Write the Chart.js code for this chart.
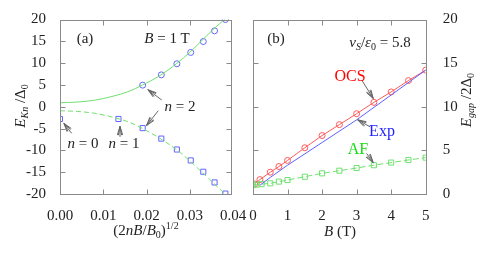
<!DOCTYPE html>
<html>
<head>
<meta charset="utf-8">
<script src="https://cdn.jsdelivr.net/npm/chart.js@4.4.1/dist/chart.umd.min.js"></script>
<style>
  body { margin: 0; background: #fff; }
  #wrap { position: relative; width: 480px; height: 253px; overflow: hidden;
          font-family: "Liberation Serif", "Times New Roman", serif; color: #222; }
  canvas { position: absolute; left: 0; top: 0; }
  .t { position: absolute; white-space: nowrap; transform: translate(-50%, -50%);
       font-size: 15px; line-height: 1; }
  .r { transform: translate(-50%, -50%) rotate(-90deg); }
  sub { font-size: 10px; vertical-align: -3px; line-height: 0; }
  sup { font-size: 10px; vertical-align: 6px; line-height: 0; }
</style>
</head>
<body>
<div id="wrap">
  <canvas id="chartA" width="480" height="253"></canvas>
  <canvas id="chartB" width="480" height="253"></canvas>

  <div class="t" style="left:85px;top:38px">(a)</div>
  <div class="t" style="left:167px;top:38px"><i>B</i> = 1 T</div>
  <div class="t" style="left:180px;top:106px"><i>n</i> = 2</div>
  <div class="t" style="left:83px;top:143px"><i>n</i> = 0</div>
  <div class="t" style="left:124px;top:143px"><i>n</i> = 1</div>
  <div class="t r" style="left:20px;top:106px"><i>E</i><sub><i>Kn</i></sub> /Δ<sub>0</sub></div>
  <div class="t" style="left:146px;top:230px">(2<i>nB</i>/<i>B</i><sub>0</sub>)<sup>1/2</sup></div>

  <div class="t" style="left:276px;top:38px">(b)</div>
  <div class="t" style="left:380px;top:42px"><i>v</i><sub><i>S</i></sub>/<i>ε</i><sub>0</sub> = 5.8</div>
  <div class="t" style="left:350px;top:76px;color:#f00;font-size:16px">OCS</div>
  <div class="t" style="left:382px;top:131px;color:#2222ff;font-size:16px">Exp</div>
  <div class="t" style="left:358px;top:149px;color:#11dd11;font-size:16px">AF</div>
  <div class="t" style="left:340px;top:231px"><i>B</i> (T)</div>
  <div class="t r" style="left:466px;top:100px"><i>E</i><sub><i>gap</i></sub> /2Δ<sub>0</sub></div>
</div>

<script>
// ---- panel (a): E_Kn vs (2nB/B0)^1/2 ----
const xSquares = [0.0, 0.0135, 0.0191, 0.0234, 0.0270, 0.0302, 0.0331, 0.0357, 0.0382];
const eSquares = [-2.8, -2.8, -4.9, -7.3, -9.8, -12.3, -14.9, -17.35, -19.9];
const xCircles = [0.0191, 0.0234, 0.0270, 0.0302, 0.0331, 0.0357, 0.0382];
const eCircles = [4.95, 7.3, 9.85, 12.45, 14.95, 17.4, 20.0];
const xCurve = [0, 0.004, 0.008, 0.012, 0.016, 0.019, 0.023, 0.027, 0.030, 0.033, 0.0358, 0.0381];
const eCurveUp = [0.92, 1.08, 1.5, 2.35, 3.55, 4.95, 7.1, 9.95, 12.5, 15.4, 18.1, 20.1];
const eCurveDn = [-0.92, -1.08, -1.5, -2.35, -3.55, -4.95, -7.2, -9.9, -12.4, -15.2, -17.8, -20.0];
const xTicksA = [0, 0.01, 0.02, 0.03, 0.04];

// ---- panel (b): E_gap/2Δ0 vs B ----
const bOcs = [0.05, 0.2, 0.5, 0.75, 1, 1.5, 2, 2.5, 3, 3.5, 4, 4.5, 5];
const eOcs = [1.15, 1.65, 2.5, 3.15, 3.85, 5.3, 6.7, 7.95, 9.2, 10.5, 11.7, 13.0, 14.2];
const bExp = [0.2, 0.5, 1, 2, 3, 4, 5];
const eExp = [1.0, 1.9, 3.3, 5.9, 8.5, 11.35, 14.2];
const bAf = [0, 0.1, 0.25, 0.5, 0.75, 1, 1.5, 2, 2.5, 3, 3.5, 4, 4.5, 5];
const eAf = [1.05, 1.07, 1.13, 1.22, 1.42, 1.6, 1.98, 2.37, 2.67, 2.98, 3.3, 3.6, 3.9, 4.17];

const pts = (xs, ys) => xs.map((x, i) => ({ x: x, y: ys[i] }));

const tickFont = { family: '"Liberation Serif", "Times New Roman", serif', size: 15 };

// frame + inward tick marks, arrows in data coords
const framePlugin = {
  id: 'frame',
  afterDatasetsDraw(chart, args, opts) {
    const { ctx, chartArea: a, scales } = chart;
    const xs = scales.x, ys = scales.y;
    ctx.save();
    ctx.strokeStyle = '#8a8a8a';
    ctx.lineWidth = 1;
    const L = Math.round(a.left) + 0.5, R = Math.round(a.right) + 0.5;
    const T = Math.round(a.top) + 0.5, B = Math.round(a.bottom) + 0.5;
    ctx.strokeRect(L, T, R - L, B - T);
    ctx.beginPath();
    xs.ticks.forEach(t => {
      if (t.value <= xs.min || t.value >= xs.max) return;
      const px = Math.round(xs.getPixelForValue(t.value)) + 0.5;
      ctx.moveTo(px, B); ctx.lineTo(px, B - 5);
      ctx.moveTo(px, T); ctx.lineTo(px, T + 5);
    });
    ys.ticks.forEach(t => {
      if (t.value <= ys.min || t.value >= ys.max) return;
      const py = Math.round(ys.getPixelForValue(t.value)) + 0.5;
      ctx.moveTo(L, py); ctx.lineTo(L + 5, py);
      ctx.moveTo(R, py); ctx.lineTo(R - 5, py);
    });
    ctx.stroke();

    // annotation arrows
    ctx.strokeStyle = '#666';
    (opts.arrows || []).forEach(ar => {
      const x1 = xs.getPixelForValue(ar[0]), y1 = ys.getPixelForValue(ar[1]);
      const x2 = xs.getPixelForValue(ar[2]), y2 = ys.getPixelForValue(ar[3]);
      const ang = Math.atan2(y2 - y1, x2 - x1);
      ctx.beginPath();
      ctx.moveTo(x1, y1); ctx.lineTo(x2, y2);
      [0.3, -0.3, 0.18, -0.18].forEach(d => {
        ctx.moveTo(x2, y2);
        ctx.lineTo(x2 - 9 * Math.cos(ang + d), y2 - 9 * Math.sin(ang + d));
      });
      ctx.stroke();
    });
    ctx.restore();
  }
};

const green = '#70e070';
const blueMk = '#6464ff';

new Chart(document.getElementById('chartA'), {
  type: 'scatter',
  data: {
    datasets: [
      { data: pts(xCurve, eCurveUp), showLine: true, borderColor: green, borderWidth: 1,
        pointRadius: 0, tension: 0.4, cubicInterpolationMode: 'monotone' },
      { data: pts(xCurve, eCurveDn), showLine: true, borderColor: green, borderWidth: 1,
        borderDash: [5, 3], pointRadius: 0, tension: 0.4, cubicInterpolationMode: 'monotone' },
      { data: pts(xCircles, eCircles), pointStyle: 'circle', pointRadius: 3,
        borderColor: blueMk, backgroundColor: 'rgba(0,0,0,0)', borderWidth: 1 },
      { data: pts(xSquares, eSquares), pointStyle: 'rect', pointRadius: 3.6,
        borderColor: blueMk, backgroundColor: 'rgba(0,0,0,0)', borderWidth: 1 }
    ]
  },
  options: {
    responsive: false, animation: false, events: [],
    layout: { padding: { left: 0, right: 249, top: 19.5, bottom: 0 }, autoPadding: false },
    plugins: { legend: { display: false }, tooltip: { enabled: false },
      frame: { arrows: [
        [0.0235, 1.55, 0.0203, 3.9],
        [0.0227, -0.9, 0.0200, -4.3],
        [0.0027, -6.1, 0.0009, -3.8],
        [0.01386, -6.9, 0.01386, -4.5]
      ] } },
    scales: {
      x: { type: 'linear', min: 0, max: 0.0395,
        afterBuildTicks: s => { s.ticks = xTicksA.map(v => ({ value: v })); },
        afterFit: s => { s.height = 59; },
        grid: { display: false }, border: { display: false },
        ticks: { autoSkip: false, maxRotation: 0, padding: 5, color: '#222', font: tickFont,
          callback: v => v.toFixed(2) } },
      y: { min: -20, max: 20,
        afterFit: s => { s.width = 60; },
        grid: { display: false }, border: { display: false },
        ticks: { stepSize: 5, padding: 6, color: '#222', font: tickFont } }
    }
  },
  plugins: [framePlugin]
});

new Chart(document.getElementById('chartB'), {
  type: 'scatter',
  data: {
    datasets: [
      { data: pts(bExp, eExp), showLine: true, borderColor: '#6060ff', borderWidth: 1, pointRadius: 0 },
      { data: pts(bAf, eAf), showLine: true, borderColor: green, borderWidth: 1, borderDash: [6, 3],
        pointStyle: 'rect', pointRadius: 3.6, backgroundColor: 'rgba(0,0,0,0)' },
      { data: pts(bOcs, eOcs), showLine: true, borderColor: '#ff5a5a', borderWidth: 1,
        pointStyle: 'circle', pointRadius: 3, backgroundColor: 'rgba(0,0,0,0)' }
    ]
  },
  options: {
    responsive: false, animation: false, events: [],
    layout: { padding: { left: 253, right: 0, top: 19.5, bottom: 0 }, autoPadding: false },
    plugins: { legend: { display: false }, tooltip: { enabled: false },
      frame: { arrows: [
        [3.15, 13.05, 3.48, 10.95],
        [3.39, 7.7, 3.03, 8.5],
        [3.29, 4.65, 3.48, 3.6]
      ] } },
    scales: {
      x: { type: 'linear', min: 0, max: 5,
        afterFit: s => { s.height = 59; },
        grid: { display: false }, border: { display: false },
        ticks: { stepSize: 1, autoSkip: false, maxRotation: 0, padding: 5, color: '#222', font: tickFont } },
      y: { position: 'right', min: 0, max: 20,
        afterFit: s => { s.width = 54.3; },
        grid: { display: false }, border: { display: false },
        ticks: { stepSize: 5, padding: 9, color: '#222', font: tickFont } }
    }
  },
  plugins: [framePlugin]
});
</script>
</body>
</html>
